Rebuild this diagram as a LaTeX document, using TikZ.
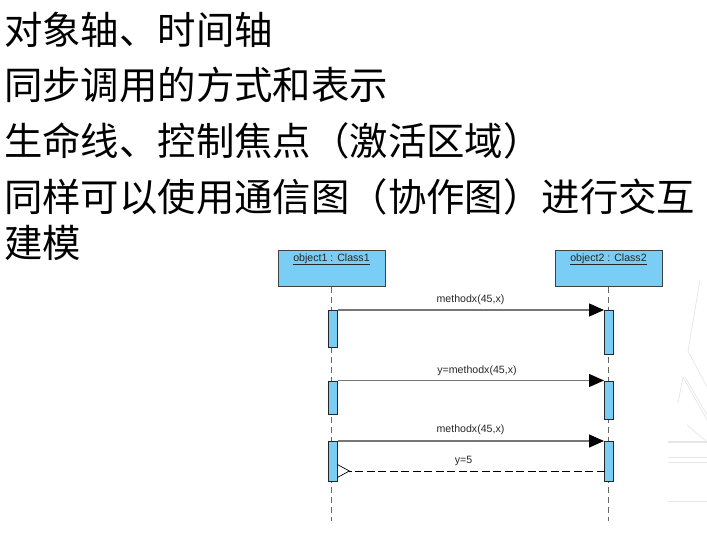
\documentclass[tikz,border=0pt]{standalone}
\usepackage{fontspec}
\setmainfont{Liberation Sans}
\newfontfamily\cjkfont{Noto Sans CJK SC}
\usetikzlibrary{arrows.meta}
\definecolor{boxblue}{HTML}{7ACDF5}
\definecolor{lifegray}{HTML}{666666}
\definecolor{msggray}{HTML}{777777}
\definecolor{faintline}{HTML}{E6E6E6}
\tikzset{
  heading/.style={anchor=west,inner sep=0pt,text=black,font=\cjkfont\fontsize{38.4}{40}\selectfont},
  objbox/.style={draw=black!75,line width=1pt,fill=boxblue,minimum width=107pt,minimum height=36pt,inner sep=2pt,text height=8pt,text depth=22pt,font=\fontsize{10.6}{12}\selectfont,text=black!85},
  actbar/.style={draw=black!85,line width=1pt,fill=boxblue,minimum width=9pt,inner sep=0pt,anchor=north},
  lifeline/.style={draw=lifegray,line width=1.1pt,dash pattern=on 6pt off 4pt},
  callmsg/.style={draw=msggray,line width=1.4pt,-{Triangle[length=15pt,width=13pt,color=black]},shorten >=0pt},
  returnmsg/.style={draw=black,line width=0.9pt,dash pattern=on 8pt off 3.5pt,-{Straight Barb[length=12pt,width=13pt,line width=0.7pt,reversed,black,fill=none]}},
  msglabel/.style={inner sep=0pt,text=black!85,font=\fontsize{10.6}{12}\selectfont},
  backdrop/.style={draw=faintline,line width=0.7pt}
}
\begin{document}
\begin{tikzpicture}[x=1pt,y=-1pt]
\useasboundingbox (0,0) rectangle (707,535);
% faint backdrop
\draw[backdrop] (700,280) -- (688,351) -- (707,387);
\draw[backdrop] (683,377) -- (678,403);
\draw[backdrop] (683,377) -- (707,420);
\draw[backdrop] (685,377) -- (707,415);
\draw[backdrop] (687,425) -- (706,441);
\draw[backdrop,line width=1.2pt] (668,442) -- (707,442);
\draw[backdrop] (668,457) -- (707,457);
\draw[backdrop] (668,462) -- (707,462);
\draw[backdrop] (668,501) -- (707,501);
% headings
\node[heading] (h1) at (4,30) {对象轴、时间轴};
\node[heading] (h2) at (4,85) {同步调用的方式和表示};
\node[heading] (h3) at (4,141) {生命线、控制焦点（激活区域）};
\node[heading] (h4) at (4,197) {同样可以使用通信图（协作图）进行交互};
\node[heading] (h5) at (4,243) {建模};
% objects
\node[objbox] (o1) at (331.5,268) {\underline{object1 : Class1}};
\node[objbox] (o2) at (608.5,268) {\underline{object2 : Class2}};
\coordinate (end1) at (331.5,521);
\coordinate (end2) at (608.5,521);
\draw[lifeline] (o1.south) -- (end1);
\draw[lifeline] (o2.south) -- (end2);
% activations
\node[actbar,minimum height=37pt] (a1) at (332.5,310) {};
\node[actbar,minimum height=44pt] (b1) at (609,310) {};
\node[actbar,minimum height=33pt] (a2) at (332.5,380.5) {};
\node[actbar,minimum height=38pt] (b2) at (609,380.5) {};
\node[actbar,minimum height=40pt] (a3) at (332.5,441) {};
\node[actbar,minimum height=40pt] (b3) at (609,441) {};
% messages
\draw[callmsg] (a1.north east) -- (b1.north west);
\draw[callmsg] (a2.north east) -- (b2.north west);
\draw[callmsg] (a3.north east) -- (b3.north west);
\coordinate (retstart) at (604.5,471);
\coordinate (retend) at (337,471);
\draw[returnmsg] (retstart) -- (retend);
% labels
\node[msglabel] (m1) at (470.5,300) {methodx(45,x)};
\node[msglabel] (m2) at (477,370.5) {y=methodx(45,x)};
\node[msglabel] (m3) at (470.5,430) {methodx(45,x)};
\node[msglabel] (m4) at (463.5,460.5) {y=5};
\end{tikzpicture}
\end{document}
